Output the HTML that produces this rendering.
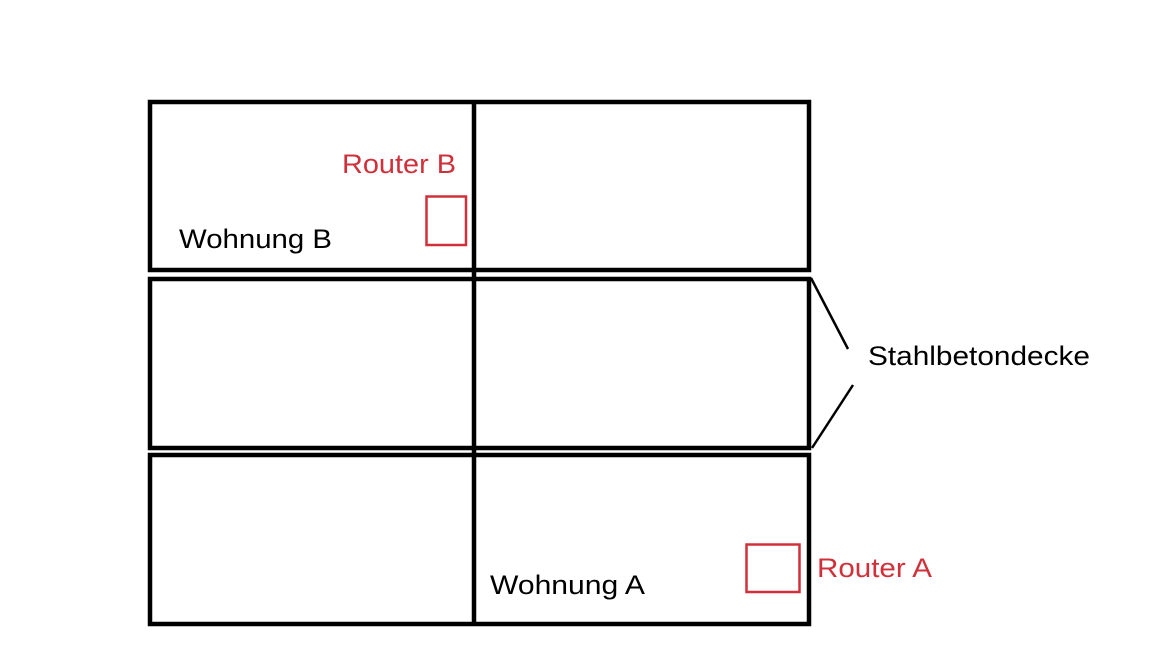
<!DOCTYPE html>
<html><head><meta charset="utf-8"><style>html,body{margin:0;padding:0;background:#fff;}svg{display:block}</style></head>
<body>
<svg width="1152" height="648" viewBox="0 0 1152 648" xmlns="http://www.w3.org/2000/svg">
<g fill="none" stroke="#000" stroke-width="4.5">
<rect x="150" y="102" width="659" height="168"/>
<rect x="150" y="279" width="659" height="169"/>
<rect x="150" y="455" width="659" height="169"/>
<line x1="474" y1="100" x2="474" y2="626"/>
</g>
<g stroke="#000" stroke-width="2.5">
<line x1="811" y1="278" x2="848" y2="349"/>
<line x1="853" y1="385" x2="812" y2="448"/>
</g>
<g fill="none" stroke="#d0303a" stroke-width="2.5">
<rect x="426.5" y="196.5" width="39.5" height="48.5"/>
<rect x="746.5" y="544.5" width="53" height="47.5"/>
</g>
<g font-family="Liberation Sans, sans-serif" font-size="27">
<text x="342" y="173" fill="#d0303a" textLength="114" lengthAdjust="spacingAndGlyphs">Router B</text>
<text x="817" y="577" fill="#d0303a" textLength="115" lengthAdjust="spacingAndGlyphs">Router A</text>
<text x="179" y="248" fill="#000" textLength="153" lengthAdjust="spacingAndGlyphs">Wohnung B</text>
<text x="490" y="594" fill="#000" textLength="155" lengthAdjust="spacingAndGlyphs">Wohnung A</text>
<text x="868" y="365" fill="#000" textLength="222" lengthAdjust="spacingAndGlyphs">Stahlbetondecke</text>
</g>
</svg>
</body></html>
